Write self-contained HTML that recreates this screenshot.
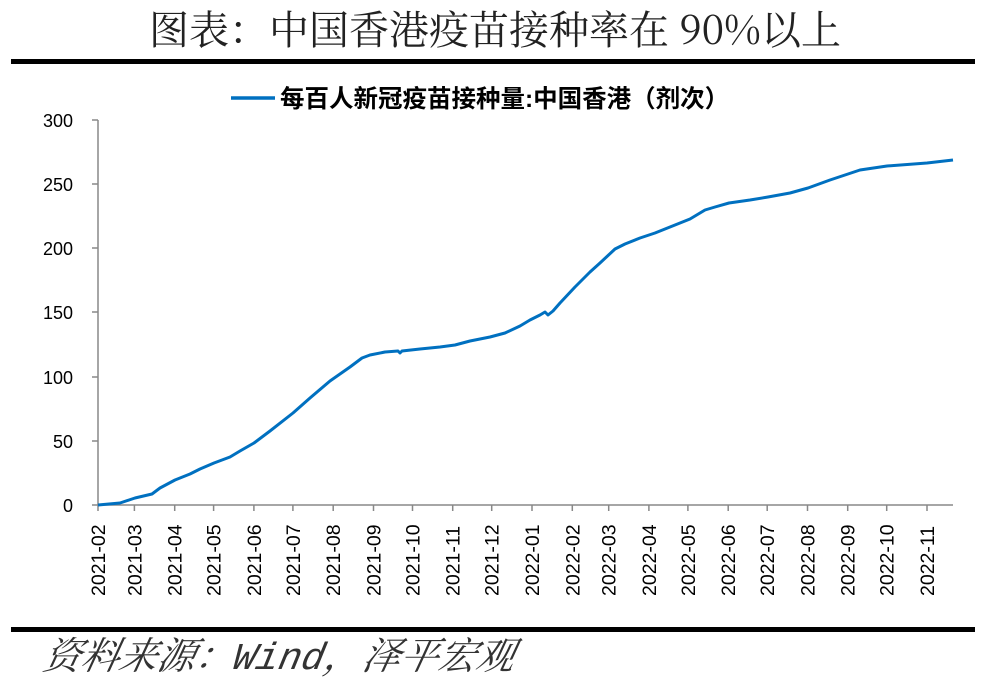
<!DOCTYPE html>
<html><head><meta charset="utf-8"><style>
body{margin:0;background:#fff;width:991px;height:700px;overflow:hidden;position:relative}
.src{position:absolute;left:38px;top:636px;font-family:"Liberation Mono","Noto Serif CJK SC",serif;font-style:italic;font-size:38px;line-height:48px;color:#333;white-space:nowrap;transform:skewX(-12deg);transform-origin:left bottom}
</style></head><body>
<svg width="991" height="700" xmlns="http://www.w3.org/2000/svg" style="position:absolute;left:0;top:0">
<text x="495" y="44" text-anchor="middle" font-family="'Noto Serif CJK SC','Liberation Serif',serif" font-size="40" fill="#222">图表：中国香港疫苗接种率在 90%以上</text>
<rect x="11" y="59" width="964" height="5" fill="#000"/>
<rect x="11" y="627" width="964" height="5" fill="#000"/>
<line x1="231" y1="98" x2="275" y2="98" stroke="#0070c0" stroke-width="3.5"/>
<text x="280" y="107" font-family="'Liberation Sans','Noto Sans CJK SC',sans-serif" font-size="24.5" font-weight="bold" fill="#000">每百人新冠疫苗接种量:中国香港（剂次）</text>
<g font-family="'Liberation Sans',sans-serif" font-size="18" fill="#000" text-anchor="end">
<text x="73" y="127">300</text><text x="73" y="191">250</text><text x="73" y="255">200</text><text x="73" y="319">150</text><text x="73" y="384">100</text><text x="73" y="448">50</text><text x="73" y="512">0</text>
</g>
<g stroke="#888" stroke-width="1.5">
<line x1="98" y1="120" x2="98" y2="505"/><line x1="98" y1="505" x2="953" y2="505"/>
<line x1="92" y1="120" x2="98" y2="120"/><line x1="92" y1="184" x2="98" y2="184"/><line x1="92" y1="248" x2="98" y2="248"/><line x1="92" y1="312" x2="98" y2="312"/><line x1="92" y1="377" x2="98" y2="377"/><line x1="92" y1="441" x2="98" y2="441"/><line x1="92" y1="505" x2="98" y2="505"/>
<path d="M98 505v6M134.4 505v6M174.7 505v6M213.6 505v6M253.9 505v6M292.9 505v6M333.2 505v6M373.5 505v6M412.5 505v6M452.7 505v6M491.7 505v6M532 505v6M572.3 505v6M608.7 505v6M648.9 505v6M687.9 505v6M728.2 505v6M767.2 505v6M807.5 505v6M847.7 505v6M886.7 505v6M927 505v6"/>
</g>
<g font-family="'Liberation Sans',sans-serif" font-size="19.5" fill="#000">
<text transform="translate(105,596) rotate(-90)">2021-02</text>
<text transform="translate(141.4,596) rotate(-90)">2021-03</text>
<text transform="translate(181.7,596) rotate(-90)">2021-04</text>
<text transform="translate(220.6,596) rotate(-90)">2021-05</text>
<text transform="translate(260.9,596) rotate(-90)">2021-06</text>
<text transform="translate(299.9,596) rotate(-90)">2021-07</text>
<text transform="translate(340.2,596) rotate(-90)">2021-08</text>
<text transform="translate(380.5,596) rotate(-90)">2021-09</text>
<text transform="translate(419.5,596) rotate(-90)">2021-10</text>
<text transform="translate(459.7,596) rotate(-90)">2021-11</text>
<text transform="translate(498.7,596) rotate(-90)">2021-12</text>
<text transform="translate(539,596) rotate(-90)">2022-01</text>
<text transform="translate(579.3,596) rotate(-90)">2022-02</text>
<text transform="translate(615.7,596) rotate(-90)">2022-03</text>
<text transform="translate(655.9,596) rotate(-90)">2022-04</text>
<text transform="translate(694.9,596) rotate(-90)">2022-05</text>
<text transform="translate(735.2,596) rotate(-90)">2022-06</text>
<text transform="translate(774.2,596) rotate(-90)">2022-07</text>
<text transform="translate(814.5,596) rotate(-90)">2022-08</text>
<text transform="translate(854.7,596) rotate(-90)">2022-09</text>
<text transform="translate(893.7,596) rotate(-90)">2022-10</text>
<text transform="translate(934,596) rotate(-90)">2022-11</text>
</g>
<polyline fill="none" stroke="#0070c0" stroke-width="3" stroke-linejoin="round" points="98,505 120,503 135,498 152,494 160,488 175,480 190,474 200,469 214,463 230,457 240,451 254,443 270,431 293,413 310,398 330,381 350,367 362,358 370,355 385,352 398,351 400,353 402,351 420,349 440,347 455,345 470,341 490,337 505,333 520,326 530,320 540,315 545,312 548,315 553,311 560,303 575,287 590,272 600,263 615,249 625,244 640,238 655,233 670,227 690,219 700,213 705,210 715,207 729,203 750,200 768,197 790,193 808,188 830,180 848,174 860,170 887,166 927,163 953,160"/>
</svg>
<div class="src">资料来源：Wind，泽平宏观</div>
</body></html>
